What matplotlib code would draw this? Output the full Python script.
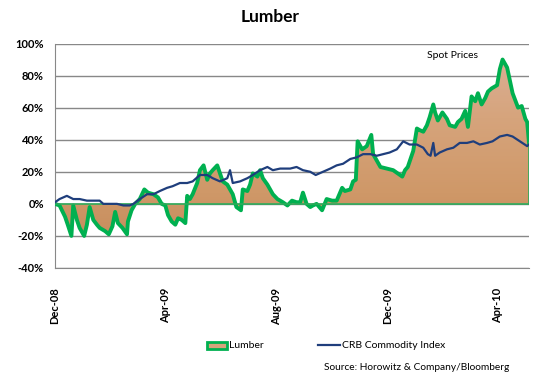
import numpy as np
import matplotlib
matplotlib.use("Agg")
import matplotlib.pyplot as plt
import matplotlib.dates as mdates
from matplotlib.patches import Rectangle
from matplotlib.lines import Line2D
from matplotlib.colors import LinearSegmentedColormap

plt.rcParams['font.family'] = ['Lato', 'DejaVu Sans']

start = np.datetime64('2008-12-01')

# Lumber spot price change (%), days after 1 Dec 2008
lumber_days = [0, 5, 11, 14, 18, 20, 24, 27, 32, 35, 38, 42, 46, 49, 55, 59, 63, 66, 69, 74,
               79, 80, 84, 88, 93, 98, 102, 108, 113, 117, 121, 124, 128, 132, 135, 139, 143, 145,
               148, 151, 156, 159, 163, 167, 170, 173, 178, 181, 184, 189, 192, 195, 199, 204,
               206, 211, 214, 217, 222, 225, 228, 233, 236, 239, 244, 250, 255, 260, 265, 269,
               272, 276, 280, 283, 287, 293, 298, 304, 309, 315, 318, 324, 327, 330, 332, 337,
               342, 347, 349, 353, 357, 364, 371, 376, 381, 384, 387, 393, 397, 400, 404, 408,
               411, 415, 417, 420, 425, 430, 433, 439, 442, 446, 450, 453, 457, 461, 464, 468,
               472, 475, 479, 485, 488, 491, 496, 499, 502, 508, 512, 516, 518, 520]
lumber_vals = [0, -1, -8, -13, -20, -1, -10, -15, -20, -13, -2, -10, -13, -15, -17, -19, -14, -5,
               -12, -15, -19, -11, -4, 0, 3, 9, 7, 6, 4, 0, -1, -7, -11, -13, -9, -10, -12, 5,
               3, 6, 13, 21, 24, 15, 19, 21, 24, 19, 14, 12, 9, 6, -2, -4, 9, 8, 12, 19, 17, 21,
               16, 12, 9, 6, 3, 1, -1, 2, 1, 1, 7, 0, -2, -1, 0, -4, 3, 2, 2, 10, 8, 9, 14, 15,
               39, 34, 36, 43, 31, 27, 23, 22, 21, 19, 17, 21, 23, 33, 47, 46, 45, 49, 54, 62,
               57, 52, 57, 53, 49, 48, 51, 53, 58, 48, 67, 64, 69, 62, 66, 70, 72, 74, 84, 90,
               85, 77, 69, 60, 61, 53, 51, 38]

# CRB Commodity Index change (%)
crb_days = [0, 5, 13, 20, 27, 35, 42, 49, 53, 60, 68, 75, 82, 86, 93, 101, 108, 115, 123, 129,
            137, 145, 151, 159, 167, 173, 181, 189, 192, 195, 203, 211, 217, 225, 233, 239, 247,
            258, 265, 272, 280, 286, 294, 302, 309, 316, 324, 331, 338, 346, 353, 360, 367, 375,
            382, 389, 397, 404, 409, 412, 415, 417, 422, 430, 437, 444, 452, 459, 466, 474, 480,
            488, 496, 502, 510, 518, 520]
crb_vals = [1, 3, 5, 3, 3, 2, 2, 2, 0, 0, 0, -1, -1, 0, 3, 6, 6, 8, 10, 11, 13, 13, 14, 18, 18,
            16, 14, 16, 21, 13, 14, 16, 18, 21, 23, 21, 22, 22, 23, 21, 20, 18, 20, 22, 24, 25,
            28, 29, 31, 31, 30, 31, 32, 34, 39, 37, 37, 35, 31, 30, 38, 30, 32, 34, 35, 38, 38,
            39, 37, 38, 39, 42, 43, 42, 39, 36, 37]

tick_labels = ['Dec-08', 'Apr-09', 'Aug-09', 'Dec-09', 'Apr-10']
tick_dates = ['2008-12-01', '2009-04-01', '2009-08-01', '2009-12-01', '2010-04-01']
y_ticks = [-40, -20, 0, 20, 40, 60, 80, 100]

ld = mdates.date2num(start + np.array(lumber_days, dtype='timedelta64[D]'))
cd = mdates.date2num(start + np.array(crb_days, dtype='timedelta64[D]'))
lv = np.array(lumber_vals, dtype=float)
cv = np.array(crb_vals, dtype=float)

fig = plt.figure(figsize=(5.37, 3.80), dpi=100)
W, H = 537, 380
ax = fig.add_axes([55 / W, 1 - 268 / H, (529 - 55) / W, (268 - 43.5) / H])

ax.set_ylim(-40, 100)
ax.set_xlim(ld[0], ld[-1])
ax.set_yticks(y_ticks)
ax.set_yticklabels([f'{t}%' for t in y_ticks], fontweight='bold', fontsize=8)
ax.yaxis.grid(True, color='#888888', lw=1)
ax.set_axisbelow(True)
for s in ['top', 'right']:
    ax.spines[s].set_visible(False)
ax.spines['left'].set_color('#888888')
ax.spines['bottom'].set_color('#888888')
ax.tick_params(axis='y', length=0, pad=8)

ax.set_xticks(mdates.date2num(np.array(tick_dates, dtype='datetime64[D]')))
ax.set_xticklabels(tick_labels, rotation=90, fontweight='bold', fontsize=8)
ax.tick_params(axis='x', length=0, pad=14)

# area with gradient fill
poly = ax.fill_between(ld, 0, lv, facecolor='none', edgecolor='none')
cmap = LinearSegmentedColormap.from_list('g', ['#c28656', '#cf9868', '#d6a47c', '#dbb19a'])
grad = np.linspace(0, 1, 256).reshape(-1, 1)
im = ax.imshow(grad, aspect='auto', cmap=cmap, origin='lower',
               extent=[ld[0], ld[-1], -40, 100], zorder=2)
im.set_clip_path(poly.get_paths()[0], transform=ax.transData)
ax.set_xlim(ld[0], ld[-1])
ax.set_ylim(-40, 100)

ax.plot(ld, lv, color='#00b050', lw=2.8, zorder=3, solid_joinstyle='round')
ax.axhline(0, color='#2daa5a', lw=1.2, zorder=3)
ax.plot([ld[-1], ld[-1]], [0, lv[-1]], color='#2daa5a', lw=1.2, zorder=3)
ax.plot(cd, cv, color='#1f3e7c', lw=1.6, zorder=4)

ax.text(427 / W, 1 - 56 / H, 'Spot Prices', transform=fig.transFigure, fontsize=7.5,
        va='center', ha='left')

fig.text(270 / W, 1 - 17 / H, 'Lumber', fontsize=12.5, fontweight='bold', ha='center', va='center')

# legend
fig.add_artist(Rectangle((207 / W, 1 - 348.5 / H), 20 / W, 6.5 / H, transform=fig.transFigure,
                         facecolor='#d6a47c', edgecolor='#00b050', lw=2))
fig.text(229 / W, 1 - 345 / H, 'Lumber', fontsize=7.5, va='center', ha='left')
fig.add_artist(Line2D([318 / W, 340 / W], [1 - 345 / H, 1 - 345 / H], transform=fig.transFigure,
                      color='#1f3e7c', lw=1.6))
fig.text(342 / W, 1 - 345 / H, 'CRB Commodity Index', fontsize=7.5, va='center', ha='left')
fig.text(324 / W, 1 - 367 / H, 'Source: Horowitz & Company/Bloomberg', fontsize=7.3,
         va='center', ha='left')

fig.savefig('out.png', dpi=100)
